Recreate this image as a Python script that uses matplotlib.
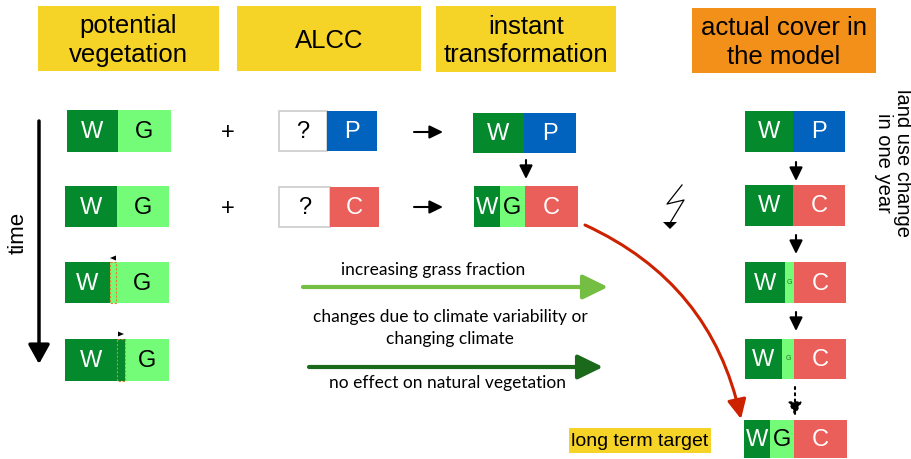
import matplotlib.pyplot as plt
from matplotlib.patches import Rectangle, FancyArrowPatch, Polygon

W_DARK = "#04892C"
G_LIGHT = "#74FB78"
P_BLUE = "#0263BF"
C_RED = "#EB5F5B"
YELLOW = "#F5D327"
ORANGE = "#F29019"

# header labels and box extents
headers = ["potential\nvegetation", "ALCC", "instant\ntransformation", "actual cover in\nthe model"]
header_x = [(38, 219), (237, 421), (436, 616), (692, 876)]
header_y = [(6, 71), (6, 71), (6, 72), (8, 73)]
header_col = [YELLOW, YELLOW, YELLOW, ORANGE]

# stacked cells: (left, top, bottom, [(right edge, kind, label)])
pot_cells = [
    (67, 110, 152, [(118, "W", "W"), (171, "G", "G")]),
    (65, 186, 227, [(117, "W", "W"), (169, "G", "G")]),
    (65, 262, 303, [(110, "W", "W"), (116, "G", ""), (169, "G", "G")]),
    (65, 339, 381, [(117, "W", "W"), (125, "W", ""), (169, "G", "G")]),
]
alcc_cells = [
    (279, 111, 151, [(327, "Q", "?"), (377, "P", "P")]),
    (279, 187, 227, [(330, "Q", "?"), (379, "C", "C")]),
]
inst_cells = [
    (473, 113, 153, [(524, "W", "W"), (576, "P", "P")]),
    (474, 186, 227, [(500, "W", "W"), (525, "G", "G"), (578, "C", "C")]),
]
model_cells = [
    (745, 111, 152, [(793, "W", "W"), (845, "P", "P")]),
    (745, 185, 226, [(793, "W", "W"), (845, "C", "C")]),
    (745, 262, 303, [(785, "W", "W"), (794, "G", "g"), (846, "C", "C")]),
    (745, 339, 379, [(782, "W", "W"), (794, "G", "g"), (846, "C", "C")]),
    (744, 420, 458, [(770, "W", "W"), (794, "G", "G"), (847, "C", "C")]),
]

fill = {"W": W_DARK, "G": G_LIGHT, "P": P_BLUE, "C": C_RED, "Q": "white"}
txtc = {"W": "white", "G": "black", "P": "white", "C": "white", "Q": "black"}

plt.rcParams["font.family"] = ["Liberation Sans", "DejaVu Sans"]
fig = plt.figure(figsize=(9.12, 4.59), dpi=100)
ax = fig.add_axes([0, 0, 1, 1])
ax.set_xlim(0, 912)
ax.set_ylim(459, 0)
ax.axis("off")

for txt, (x0, x1), (y0, y1), col in zip(headers, header_x, header_y, header_col):
    ax.add_patch(Rectangle((x0, y0), x1 - x0, y1 - y0, color=col, lw=0))
    ax.text((x0 + x1) / 2, (y0 + y1) / 2 + 2, txt, ha="center", va="center",
            fontsize=18.5, linespacing=1.22)


def draw_cells(cells):
    for left, top, bot, segs in cells:
        x = left
        for right, kind, lab in segs:
            ec = "#cccccc" if kind == "Q" else "none"
            ax.add_patch(Rectangle((x, top), right - x, bot - top, facecolor=fill[kind],
                                   edgecolor=ec, lw=1.2))
            if lab == "g":
                ax.text((x + right) / 2, (top + bot) / 2, "G", ha="center", va="center",
                        fontsize=5, color="#227722")
            elif lab:
                ax.text((x + right) / 2, (top + bot) / 2 + 1, lab, ha="center", va="center",
                        fontsize=17, color=txtc[kind])
            x = right


for cells in (pot_cells, alcc_cells, inst_cells, model_cells):
    draw_cells(cells)

# dashed markers on the shifting boundary
ax.add_patch(Rectangle((110, 262), 6, 41, facecolor="none", edgecolor="#E0802A",
                       lw=0.8, ls=(0, (2, 1.5))))
ax.add_patch(Rectangle((117, 339), 8, 42, facecolor="none", edgecolor="#E0802A",
                       lw=0.8, ls=(0, (2, 1.5))))
ax.add_patch(Polygon([(110, 258), (116, 255.5), (116, 260.5)], color="black", lw=0))
ax.add_patch(Polygon([(124, 334), (118, 331.5), (118, 336.5)], color="black", lw=0))


def arrow(x0, y0, x1, y1, color="black", lw=1.5, ms=18, ls="-", style="-|>", **kw):
    ax.add_patch(FancyArrowPatch((x0, y0), (x1, y1), arrowstyle=style, mutation_scale=ms,
                                 color=color, lw=lw, linestyle=ls, shrinkA=0, shrinkB=0, **kw))


# time arrow
arrow(39, 121, 39, 364, lw=2.5, ms=26, style="-|>,head_length=0.45,head_width=0.25")
ax.text(18, 233, "time", rotation=90, ha="center", va="center", fontsize=16)

# plus signs and short arrows
for y in (133, 209):
    ax.text(228, y, "+", ha="center", va="center", fontsize=17)
for y in (132, 207):
    arrow(414, y, 443, y, style="-|>,head_length=0.45,head_width=0.22")

arrow(526, 160, 526, 179, style="-|>,head_length=0.45,head_width=0.22")
for y0, y1 in ((162, 181), (235, 254), (312, 331)):
    arrow(796, y0, 796, y1, style="-|>,head_length=0.45,head_width=0.22")
arrow(795, 387, 795, 416, ls=(0, (1, 2)), style="-|>,head_length=0.45,head_width=0.22")

# lightning bolt
ax.plot([682, 667, 684, 670], [185, 204, 200, 223], color="black", lw=0.9)
ax.add_patch(Polygon([(663, 222), (677, 222), (670, 229)], color="black", lw=0))

# green arrows and their texts
arrow(303, 287, 608, 287, color="#74BE44", lw=3, ms=34, style="-|>,head_length=0.45,head_width=0.22")
arrow(309, 367, 603, 367, color="#1B6A1B", lw=3, ms=34, style="-|>,head_length=0.45,head_width=0.22")
mid_font = ["Lato", "DejaVu Sans"]
ax.text(433, 270, "increasing grass fraction", ha="center", va="center", fontsize=12.5,
        family=mid_font)
ax.text(450, 328, "changes due to climate variability or\nchanging climate", ha="center",
        va="center", fontsize=12.5, family=mid_font, linespacing=1.4)
ax.text(448, 383, "no effect on natural vegetation", ha="center", va="center",
        fontsize=12.5, family=mid_font)

# red curved arrow to long term target
arrow(585, 225, 741, 419, color="#CC2200", lw=2.2, ms=26,
      style="-|>,head_length=0.45,head_width=0.22", connectionstyle="arc3,rad=-0.25")

ax.add_patch(Rectangle((569, 428), 142, 25, color=YELLOW, lw=0))
ax.text(640, 441, "long term target", ha="center", va="center", fontsize=14)

ax.text(893, 163, "land use change\nin one year", rotation=-90, ha="center", va="center",
        fontsize=14.5, linespacing=1.05)

fig.savefig("out.png", dpi=100)
